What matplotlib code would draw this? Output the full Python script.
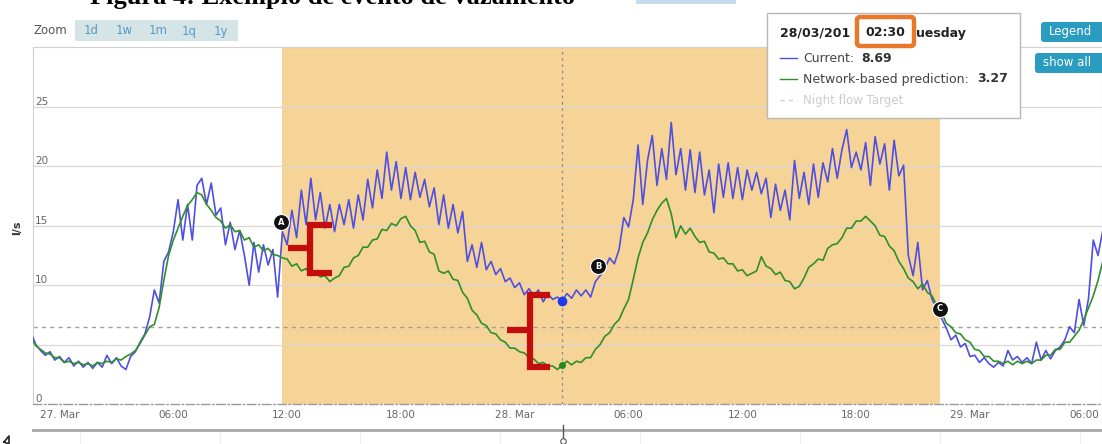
import numpy as np
import matplotlib.pyplot as plt
from matplotlib.patches import FancyBboxPatch, Rectangle
from matplotlib.transforms import blended_transform_factory

# --- data (l/s, one sample every 15 min starting 26/03 22:30) ---
current = [
    6.0, 5.0, 4.5, 4.1, 4.4, 3.7, 4.0, 3.5, 3.9, 3.2,
    3.6, 3.1, 3.5, 3.0, 3.5, 3.1, 4.1, 3.4, 3.9, 3.2,
    2.9, 4.0, 4.4, 5.2, 5.9, 7.3, 9.6, 8.5, 12.0, 12.8,
    14.5, 17.2, 13.8, 16.8, 13.8, 18.4, 19.0, 16.8, 18.6, 15.9,
    16.5, 13.4, 15.3, 13.0, 14.6, 12.5, 10.0, 13.6, 11.1, 13.4,
    11.7, 13.0, 9.0, 14.5, 13.4, 16.3, 14.0, 18.0, 15.1, 19.0,
    15.5, 17.8, 14.8, 16.8, 14.5, 16.8, 15.1, 17.2, 14.8, 17.6,
    15.5, 18.9, 16.5, 19.7, 17.3, 21.2, 18.0, 20.4, 17.3, 19.9,
    17.2, 19.5, 17.4, 18.9, 16.6, 18.2, 15.1, 17.6, 14.8, 16.8,
    14.4, 16.2, 12.0, 13.4, 11.5, 13.6, 11.3, 12.0, 10.9, 11.4,
    10.3, 10.6, 9.8, 10.2, 9.2, 9.7, 9.1, 9.6, 8.6, 9.3,
    8.8, 9.0, 8.69, 9.3, 8.9, 9.6, 9.1, 9.6, 9.0, 10.3,
    10.8, 11.4, 12.3, 11.8, 13.0, 15.7, 14.9, 17.2, 21.8, 16.8,
    20.5, 22.6, 18.4, 21.5, 18.9, 23.7, 19.3, 21.5, 18.0, 21.4,
    17.8, 21.2, 17.6, 19.7, 16.1, 20.2, 17.4, 20.3, 17.3, 19.9,
    17.2, 19.7, 18.0, 19.5, 17.7, 19.0, 15.7, 18.5, 16.3, 18.0,
    15.5, 20.5, 17.3, 19.5, 16.8, 20.2, 17.4, 20.3, 18.7, 21.5,
    19.0, 21.4, 23.1, 19.9, 21.2, 19.7, 22.0, 18.4, 22.5, 20.2,
    21.9, 18.0, 22.2, 19.2, 20.1, 12.5, 10.8, 13.6, 9.6, 10.4,
    8.8, 8.1, 7.2, 6.4, 5.4, 5.8, 4.8, 5.1, 4.0, 4.1,
    3.5, 3.9, 3.4, 3.1, 3.5, 3.2, 4.5, 3.7, 4.0, 3.5,
    3.9, 3.4, 5.2, 3.7, 4.5, 3.8, 4.5, 4.8, 5.4, 6.5,
    6.0, 8.8, 6.6, 8.9, 13.8, 12.5, 14.6,
]
prediction = [
    5.6, 4.9, 4.6, 4.3, 4.2, 3.9, 3.9, 3.5, 3.6, 3.4,
    3.5, 3.3, 3.4, 3.2, 3.5, 3.4, 3.6, 3.5, 3.8, 3.7,
    4.0, 4.2, 4.5, 5.1, 5.8, 6.5, 6.7, 8.1, 10.4, 12.5,
    13.8, 14.8, 15.8, 16.7, 17.2, 17.8, 17.6, 16.8, 16.3, 15.7,
    15.4, 14.8, 15.1, 14.5, 14.6, 13.8, 14.0, 13.2, 13.4, 12.9,
    13.1, 12.6, 12.5, 12.3, 12.2, 11.6, 11.8, 11.2, 11.4, 10.8,
    11.1, 10.7, 10.8, 10.3, 10.6, 10.8, 11.5, 11.6, 12.3, 12.5,
    13.2, 13.2, 13.8, 13.9, 14.7, 14.6, 15.2, 15.0, 15.6, 15.8,
    15.0, 14.6, 13.6, 13.7, 12.8, 12.6, 11.2, 11.0, 11.2, 10.5,
    10.4, 9.4, 8.9, 7.9, 7.5, 6.8, 6.6, 6.0, 5.9, 5.4,
    5.2, 4.7, 4.7, 4.4, 4.3, 3.9, 3.8, 3.4, 3.5, 3.2,
    3.2, 2.9, 3.27, 3.6, 3.3, 3.6, 3.5, 3.9, 3.9, 4.6,
    5.0, 5.7, 6.0, 6.7, 7.1, 8.0, 8.8, 10.5, 12.3, 13.6,
    14.4, 15.5, 16.3, 16.9, 17.3, 16.0, 14.0, 15.0, 14.3, 14.8,
    14.1, 13.6, 13.7, 12.8, 12.7, 12.2, 12.3, 11.8, 11.8, 11.2,
    11.3, 10.8, 11.0, 11.2, 12.4, 11.6, 11.4, 10.9, 11.1, 10.4,
    10.3, 9.7, 9.9, 10.6, 11.5, 11.8, 12.2, 12.1, 13.1, 13.4,
    13.5, 14.0, 14.8, 14.8, 15.4, 15.4, 15.8, 15.4, 15.0, 14.2,
    14.1, 13.3, 12.9, 12.0, 11.4, 10.6, 10.3, 9.7, 10.1, 9.4,
    9.1, 8.3, 7.7, 6.8, 6.5, 6.0, 5.9, 5.4, 5.2, 4.6,
    4.5, 4.0, 4.0, 3.6, 3.6, 3.4, 3.6, 3.3, 3.6, 3.4,
    3.6, 3.4, 3.7, 3.7, 4.1, 4.1, 4.6, 4.6, 5.2, 5.2,
    5.7, 6.2, 7.1, 8.1, 9.1, 10.4, 12.0,
]
night_target = 6.5
event_start, event_end = 11.73, 46.42        # hours after 27/03 00:00
cursor_idx = 112                             # 28/03 02:30
flags = ["A", "B", "C"]
flag_hours = [11.68, 28.39, 46.42]
flag_values = [15.3, 11.6, 8.0]
tick_hours = [0, 6, 12, 18, 24, 30, 36, 42, 48, 54]
tick_labels = ["27. Mar", "06:00", "12:00", "18:00", "28. Mar",
               "06:00", "12:00", "18:00", "29. Mar", "06:00"]
grid_values = [5, 10, 15, 20, 25]
ylabel_values = [0, 10, 15, 20, 25]   # the "5" label sits under the curves

times = np.arange(len(current)) * 0.25 - 1.5

BLUE = "#4f4fe0"
GREEN = "#2f8f2a"
BAND = "#f6d397"
RED = "#c40d0d"
GREY = "#666666"
TEAL = "#2a9cc0"

fig = plt.figure(figsize=(11.02, 4.44), dpi=100)
W, H = 1102, 444
ax = fig.add_axes([33 / W, 40 / H, 1069 / W, 357 / H])
ax.set_xlim(-1.397, 54.96)
ax.set_ylim(0, 30.05)

ax.axvspan(event_start, event_end, color=BAND, lw=0, zorder=0.5)
for v in grid_values:
    ax.axhline(v, color="#d8d8d8", lw=0.9, zorder=1)
ax.axhline(night_target, color="#a0a0a0", lw=1.0, ls=(0, (3, 3)), zorder=2)
ax.axvline(times[cursor_idx], color="#8a8a8a", lw=0.9, ls=(0, (2, 3)), zorder=2)

ax.plot(times, current, color=BLUE, lw=1.2, zorder=3)
ax.plot(times, prediction, color=GREEN, lw=1.2, zorder=3.5)
ax.plot(times[cursor_idx], current[cursor_idx], "o", ms=6, color="#1a3cf0", zorder=6)
ax.plot(times[cursor_idx], prediction[cursor_idx], "o", ms=4, color="#1f8a1f", zorder=6)

# red brackets marking the gap between the two curves
for xv, xa, xm, yt, yb, ym in [(13.21, 14.36, 12.05, 15.07, 11.03, 13.13),
                               (24.80, 25.86, 23.59, 9.18, 3.11, 6.23)]:
    ax.plot([xa, xv, xv, xa], [yt, yt, yb, yb], color=RED, lw=4.5,
            solid_joinstyle="miter", solid_capstyle="butt", zorder=5)
    ax.plot([xm, xv], [ym, ym], color=RED, lw=4.5, solid_capstyle="butt", zorder=5)

for lab, fx, fy in zip(flags, flag_hours, flag_values):
    ax.plot(fx, fy, "o", ms=11.5, mfc="#111111", mec="#ffffff", mew=0.8, zorder=7)
    ax.text(fx, fy, lab, ha="center", va="center", fontsize=6, fontweight="bold",
            color="white", zorder=8)

trans = blended_transform_factory(ax.transAxes, ax.transData)
for v in ylabel_values:
    ax.text(0.002, v, str(v), transform=trans, ha="left", va="bottom",
            fontsize=7.5, color=GREY, zorder=1.2)

ax.set_yticks([])
ax.set_xticks(tick_hours)
ax.set_xticklabels(tick_labels, fontsize=7.5, color=GREY)
ax.tick_params(axis="x", length=0, pad=4)
for s in ["top", "left", "right"]:
    ax.spines[s].set_color("#d0d0d0")
    ax.spines[s].set_linewidth(0.8)
ax.spines["bottom"].set_color("#9a9a9a")
ax.spines["bottom"].set_linestyle((0, (6, 2, 1, 2)))
ax.spines["bottom"].set_linewidth(1.0)

# --- page chrome drawn in pixel coordinates ---
ov = fig.add_axes([0, 0, 1, 1], zorder=10)
ov.set_xlim(0, W)
ov.set_ylim(H, 0)
ov.axis("off")
ov.patch.set_alpha(0)

ov.text(90, 4, "Figura 4: Exemplo de evento de vazamento", fontsize=19,
        fontweight="bold", family="Liberation Serif", va="baseline", ha="left")
ov.add_patch(Rectangle((636, 0), 100, 4, color="#c7dbee", lw=0))
ov.text(17, 228, "l/s", rotation=90, ha="center", va="center", fontsize=8,
        fontweight="bold", color="#333333")

ov.text(33, 31, "Zoom", fontsize=8.5, color="#555555", va="center")
ov.add_patch(Rectangle((75, 20), 163, 21, color="#d5e4e7", lw=0))
for lab, x in zip(["1d", "1w", "1m", "1q", "1y"], [91, 124, 158, 189, 221]):
    ov.text(x, 31, lab, fontsize=8.5, color="#5b9ac0", ha="center", va="center")

# tooltip
ov.add_patch(Rectangle((767, 13), 253, 105, facecolor="white", edgecolor="#b8b8b8", lw=1.0))
ov.text(780, 33, "28/03/201", fontsize=9, fontweight="bold", va="center", color="#222222")
ov.add_patch(FancyBboxPatch((857, 17), 57, 29, boxstyle="round,pad=0,rounding_size=3",
                            facecolor="white", edgecolor="#e8782a", lw=3.2))
ov.text(885, 33, "02:30", fontsize=9, fontweight="bold", va="center", ha="center",
        color="#222222")
ov.text(916, 33, "uesday", fontsize=9, fontweight="bold", va="center", color="#222222")
ov.plot([780, 797], [58, 58], color=BLUE, lw=1.0)
ov.text(803, 58, "Current:", fontsize=9, va="center", color="#444444")
ov.text(861, 58, "8.69", fontsize=9, va="center", fontweight="bold", color="#333333")
ov.plot([780, 797], [79, 79], color=GREEN, lw=1.0)
ov.text(803, 79, "Network-based prediction:", fontsize=9, va="center", color="#444444")
ov.text(977, 79, "3.27", fontsize=9, va="center", fontweight="bold", color="#333333")
ov.plot([780, 797], [100, 100], color="#cccccc", lw=1.0, ls=(0, (3, 3)))
ov.text(803, 100, "Night flow Target", fontsize=8.5, va="center", color="#cccccc")

# buttons
ov.add_patch(FancyBboxPatch((1041, 22), 70, 20, boxstyle="round,pad=0,rounding_size=3",
                            color=TEAL, lw=0))
ov.text(1049, 32, "Legend", fontsize=8.5, color="white", va="center")
ov.add_patch(FancyBboxPatch((1035, 53), 77, 20, boxstyle="round,pad=0,rounding_size=3",
                            color=TEAL, lw=0))
ov.text(1043, 63, "show all", fontsize=8.5, color="white", va="center")

# navigator strip
ov.plot([33, W], [430, 430], color="#a8a8a8", lw=2.0)
for x in [80, 220, 360, 500, 640, 800, 940, 1080]:
    ov.plot([x, x], [432, H], color="#eeeeee", lw=0.8)
ov.plot([563, 563], [425, 440], color="#555555", lw=1.0)
ov.plot(563, 441, "o", ms=4, mfc="white", mec="#555555", mew=0.8)
ov.plot([4, 9, 9, 4], [442, 436, 444, 442], color="#222222", lw=1.2)

fig.savefig("out.png", dpi=100)
